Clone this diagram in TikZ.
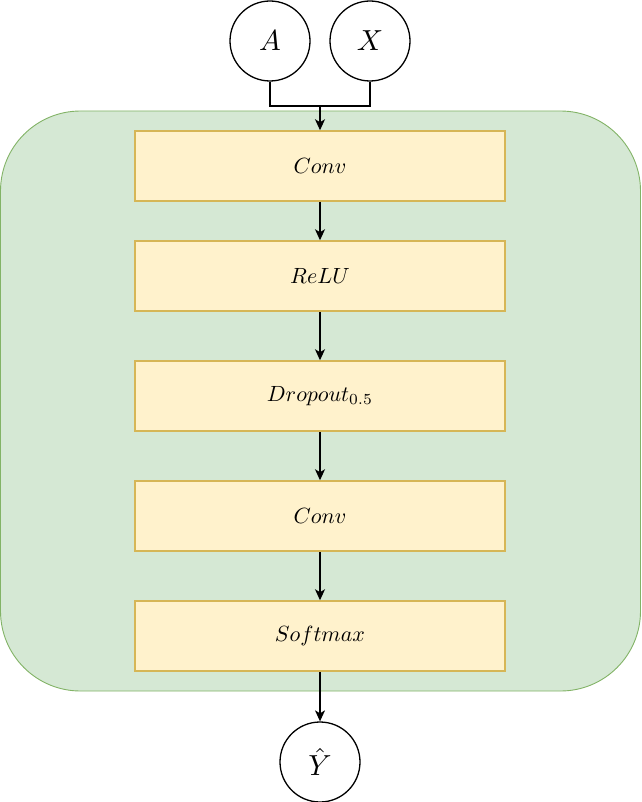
\documentclass[tikz,border=0pt]{standalone}
\usepackage{graphicx}
\usetikzlibrary{arrows.meta}
\definecolor{grfill}{HTML}{D5E8D4}
\definecolor{grline}{HTML}{82B366}
\definecolor{yfill}{HTML}{FFF2CC}
\definecolor{yline}{HTML}{D6B656}
\newcommand{\boxlbl}[1]{\scalebox{2.2}{$#1$}}
\newcommand{\varlbl}[1]{\scalebox{2.9}{$#1$}}
\tikzset{
  layerbox/.style={draw=yline, fill=yfill, line width=1.5pt, minimum width=370pt, minimum height=70pt, inner sep=0pt},
  varnode/.style={draw=black, circle, line width=1.3pt, minimum size=80pt, inner sep=0pt},
  conn/.style={draw=black, line width=1.3pt, -{Stealth[length=11pt,width=10pt,inset=3pt]}},
  plain/.style={draw=black, line width=1.3pt},
}
\begin{document}
\begin{tikzpicture}[x=1pt,y=-1pt]
\useasboundingbox (0,0) rectangle (641,802);
\path[fill=grfill, draw=grline, line width=0.9pt, rounded corners=80pt] (0.5,111) rectangle (640.5,691);
\node[varnode] (a) at (270,41) {\varlbl{A}};
\node[varnode] (x) at (370,41) {\varlbl{X}};
\node[layerbox] (c1) at (320,166) {\boxlbl{Conv}};
\node[layerbox] (r) at (320,276) {\boxlbl{ReLU}};
\node[layerbox] (d) at (320,396) {\boxlbl{Dropout_{0.5}}};
\node[layerbox] (c2) at (320,516) {\boxlbl{Conv}};
\node[layerbox] (s) at (320,636) {\boxlbl{Softmax}};
\node[varnode] (y) at (320,762) {\varlbl{\hat{Y}}};
\coordinate (j) at (320,106);
\draw[plain] (a.south) |- (j);
\draw[plain] (x.south) |- (j);
\draw[conn] (j) -- (c1.north);
\draw[conn] (c1) -- (r);
\draw[conn] (r) -- (d);
\draw[conn] (d) -- (c2);
\draw[conn] (c2) -- (s);
\draw[conn] (s) -- (y);
\end{tikzpicture}
\end{document}
